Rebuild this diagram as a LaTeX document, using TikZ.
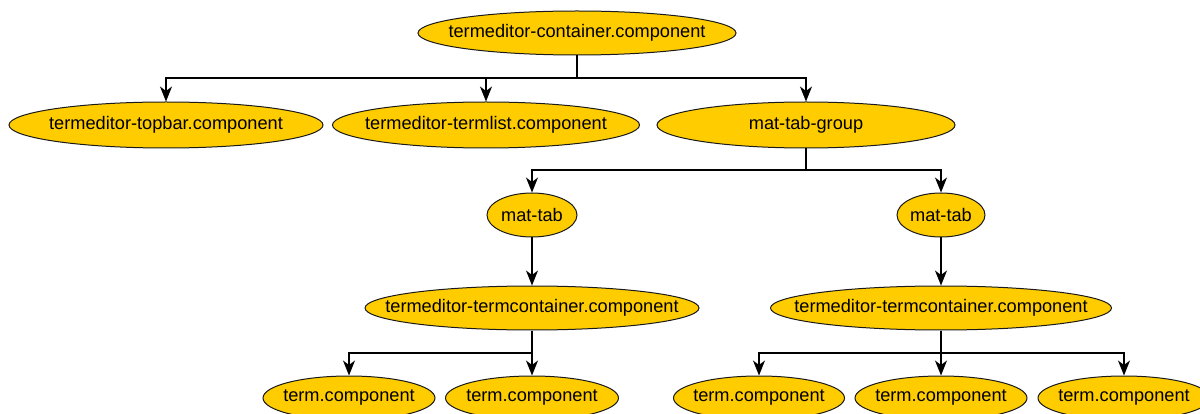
\documentclass[tikz,border=0pt]{standalone}
\usepackage{fontspec}
\setmainfont{Liberation Sans}
\usetikzlibrary{shapes.geometric,arrows.meta}
\definecolor{compfill}{HTML}{FFCC00}
\definecolor{compline}{HTML}{1A1A1A}
% zero-width label so the ellipse size is set by the minimum sizes only
\newcommand{\cname}[1]{\makebox[0pt]{#1}}
\begin{document}
\begin{tikzpicture}[x=1pt,y=-1pt,
  comp/.style={ellipse, draw=compline, line width=1pt, fill=compfill,
    inner sep=0pt, minimum height=44pt,
    font=\fontsize{18.2}{22}\selectfont},
  conn/.style={line width=1.3pt, draw=black,
    -{Stealth[length=15pt,width=12pt,inset=4.5pt]}}]
\useasboundingbox (0,0) rectangle (1200,414);
\clip (0,0) rectangle (1200,414);
\fill[white] (0,0) rectangle (1200,414);

% component tree
\node[comp, minimum width=318pt] (root)  at (577,33)  {\cname{termeditor-container.component}};
\node[comp, minimum width=314pt, minimum height=46pt] (topbar) at (166,125) {\cname{termeditor-topbar.component}};
\node[comp, minimum width=307pt, minimum height=46pt] (tlist)  at (486,125) {\cname{termeditor-termlist.component}};
\node[comp, minimum width=298pt, minimum height=46pt] (group)  at (806,125) {\cname{mat-tab-group}};

\node[comp, minimum width=90pt] (tabA) at (532,215) {\cname{mat-tab}};
\node[comp, minimum width=88pt] (tabB) at (941,215) {\cname{mat-tab}};

\node[comp, minimum width=334pt] (tcA) at (532,308) {\cname{termeditor-termcontainer.component}};
\node[comp, minimum width=341pt] (tcB) at (941,308) {\cname{termeditor-termcontainer.component}};

\node[comp, minimum width=172pt] (tA1) at (349,398) {\cname{term.component}};
\node[comp, minimum width=173pt] (tA2) at (532,398) {\cname{term.component}};
\node[comp, minimum width=171pt] (tB1) at (759,398) {\cname{term.component}};
\node[comp, minimum width=172pt] (tB2) at (941,398) {\cname{term.component}};
\node[comp, minimum width=172pt] (tB3) at (1124,398) {\cname{term.component}};

% connectors: parent -> horizontal bus -> child
\coordinate (bus1) at (0,78);
\coordinate (bus2) at (0,170);
\coordinate (bus3) at (0,353);

\draw[conn] (root.south) -- (root.south |- bus1) -| (topbar.north);
\draw[conn] (root.south) -- (root.south |- bus1) -| (tlist.north);
\draw[conn] (root.south) -- (root.south |- bus1) -| (group.north);

\draw[conn] (group.south) -- (group.south |- bus2) -| (tabA.north);
\draw[conn] (group.south) -- (group.south |- bus2) -| (tabB.north);

\draw[conn] (tabA.south) -- (tcA.north);
\draw[conn] (tabB.south) -- (tcB.north);

\draw[conn] (tcA.south) -- (tcA.south |- bus3) -| (tA1.north);
\draw[conn] (tcA.south) -- (tA2.north);

\draw[conn] (tcB.south) -- (tcB.south |- bus3) -| (tB1.north);
\draw[conn] (tcB.south) -- (tB2.north);
\draw[conn] (tcB.south) -- (tcB.south |- bus3) -| (tB3.north);
\end{tikzpicture}
\end{document}
